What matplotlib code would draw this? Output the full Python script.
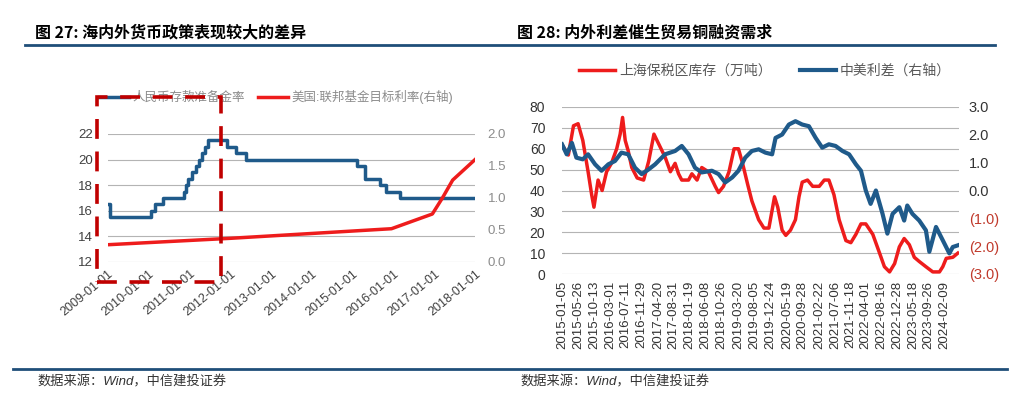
import matplotlib
matplotlib.use('Agg')
import matplotlib.pyplot as plt
from matplotlib.patches import Rectangle
from matplotlib.lines import Line2D
from matplotlib.ticker import FormatStrFormatter
import pandas as pd

plt.rcParams['font.family'] = ['Liberation Sans', 'Noto Sans CJK SC']

# ---- 图27 data ----
rrr_dates = ['2009-01-01', '2009-01-20', '2010-01-18', '2010-02-25', '2010-05-10',
             '2010-11-16', '2010-11-29', '2010-12-20', '2011-01-20', '2011-02-24',
             '2011-03-25', '2011-04-21', '2011-05-18', '2011-06-20', '2011-12-05',
             '2012-02-24', '2012-05-18', '2015-02-05', '2015-04-20', '2015-09-06',
             '2015-10-24', '2016-03-01', '2018-01-01']
rrr_values = [16.5, 15.5, 16.0, 16.5, 17.0, 17.5, 18.0, 18.5, 19.0, 19.5, 20.0,
              20.5, 21.0, 21.5, 21.0, 20.5, 20.0, 19.5, 18.5, 18.0, 17.5, 17.0, 17.0]

fed_dates = ['2009-01-01', '2012-01-01', '2015-12-15', '2016-12-15', '2017-03-15',
             '2017-06-15', '2018-01-01']
fed_values = [0.27, 0.37, 0.52, 0.75, 1.0, 1.28, 1.6]

left_xticks = ['2009-01-01', '2010-01-01', '2011-01-01', '2012-01-01', '2013-01-01',
               '2014-01-01', '2015-01-01', '2016-01-01', '2017-01-01', '2018-01-01']

# ---- 图28 data ----
stock_dates = ['2015-01-05', '2015-03-01', '2015-04-15', '2015-05-25', '2015-07-05',
               '2015-08-20', '2015-09-20', '2015-10-10', '2015-11-15', '2015-12-20',
               '2016-01-28', '2016-03-10', '2016-04-25', '2016-05-25', '2016-06-15',
               '2016-07-08', '2016-08-03', '2016-09-03', '2016-10-20', '2016-12-15',
               '2017-01-28', '2017-03-15', '2017-04-28', '2017-06-20', '2017-08-05',
               '2017-09-15', '2017-10-15', '2017-11-12', '2018-01-10', '2018-02-08',
               '2018-03-25', '2018-05-05', '2018-07-01', '2018-08-30', '2018-09-28',
               '2018-11-10', '2018-12-28', '2019-02-10', '2019-03-20', '2019-04-25',
               '2019-06-08', '2019-07-15', '2019-09-12', '2019-10-28', '2019-12-10',
               '2020-01-28', '2020-02-25', '2020-04-03', '2020-05-05', '2020-06-15',
               '2020-07-28', '2020-08-28', '2020-09-25', '2020-11-10', '2020-12-25',
               '2021-02-20', '2021-04-05', '2021-05-15', '2021-06-28', '2021-08-12',
               '2021-10-10', '2021-11-22', '2022-01-05', '2022-02-18', '2022-04-01',
               '2022-06-01', '2022-07-30', '2022-09-10', '2022-10-25', '2022-12-08',
               '2023-01-18', '2023-03-01', '2023-04-15', '2023-05-28', '2023-07-10',
               '2023-09-06', '2023-11-05', '2024-01-02', '2024-01-31', '2024-03-01',
               '2024-04-27', '2024-06-10']
stock_values = [62, 57, 71, 72, 64, 49, 38, 32, 45, 40,
                49, 53, 60, 67, 75, 64, 59, 51, 46, 45,
                54, 67, 62, 56, 49, 53, 48, 45, 45, 48,
                45, 51, 49, 42, 39, 42, 49, 60, 60, 53,
                43, 35, 26, 22, 22, 37, 32, 21, 18.5, 21,
                26, 37, 44, 45, 42, 42, 45, 45, 38, 26,
                16, 15, 19, 24, 24, 19, 10, 3.5, 1, 5,
                13, 17, 14, 8, 6, 3.5, 1, 1, 3.5, 7.5,
                8, 10]

spread_dates = ['2015-01-05', '2015-02-15', '2015-04-01', '2015-05-10', '2015-07-05',
                '2015-08-20', '2015-10-20', '2015-12-15', '2016-02-12', '2016-04-10',
                '2016-06-05', '2016-08-03', '2016-10-01', '2016-11-28', '2017-01-28',
                '2017-03-25', '2017-06-20', '2017-09-15', '2017-11-12', '2018-01-10',
                '2018-03-07', '2018-05-05', '2018-08-01', '2018-09-28', '2018-11-25',
                '2019-01-25', '2019-03-20', '2019-05-18', '2019-07-15', '2019-09-12',
                '2019-11-10', '2020-01-07', '2020-02-06', '2020-04-03', '2020-06-01',
                '2020-07-28', '2020-09-25', '2020-11-22', '2021-01-20', '2021-03-18',
                '2021-05-15', '2021-07-12', '2021-09-10', '2021-11-07', '2022-01-05',
                '2022-02-18', '2022-04-01', '2022-05-13', '2022-06-28', '2022-08-25',
                '2022-10-06', '2022-11-20', '2023-01-18', '2023-03-01', '2023-03-28',
                '2023-05-12', '2023-07-10', '2023-09-06', '2023-10-06', '2023-12-03',
                '2024-01-31', '2024-03-28', '2024-04-27', '2024-06-10']
spread_values = [1.66, 1.30, 1.71, 1.18, 1.12, 1.30, 0.94, 0.71, 0.94, 1.06,
                 1.36, 1.30, 0.82, 0.59, 0.76, 0.94, 1.30, 1.42, 1.60, 1.30,
                 0.82, 0.65, 0.71, 0.59, 0.29, 0.47, 0.71, 1.18, 1.42, 1.48,
                 1.36, 1.30, 1.89, 2.01, 2.37, 2.49, 2.37, 2.31, 1.89, 1.54,
                 1.66, 1.60, 1.42, 1.30, 0.94, 0.71, 0.0, -0.48, 0.0, -0.84,
                 -1.55, -0.84, -0.60, -1.08, -0.54, -0.84, -1.08, -1.43, -2.20, -1.31,
                 -1.79, -2.26, -2.03, -1.97]

right_xticks = ['2015-01-05', '2015-05-26', '2015-10-13', '2016-03-01', '2016-07-11',
                '2016-11-29', '2017-04-20', '2017-08-31', '2018-01-19', '2018-06-08',
                '2018-10-26', '2019-03-20', '2019-08-05', '2019-12-24', '2020-05-19',
                '2020-09-28', '2021-02-22', '2021-07-06', '2021-11-18', '2022-04-01',
                '2022-08-16', '2022-12-28', '2023-05-18', '2023-09-26', '2024-02-09']
spread_ticks = [-3, -2, -1, 0, 1, 2, 3]
spread_labels = ['(3.0)', '(2.0)', '(1.0)', '0.0', '1.0', '2.0', '3.0']

BLUE = '#1f5a8a'
RED = '#ee1c1c'
DARKRED = '#c00000'
LINE = '#1f4e79'
GRID = '#b4b4b4'
TXT = '#595959'

fig = plt.figure(figsize=(10.24, 4.05), dpi=100)
W, H = 1024.0, 405.0

def clean(ax):
    for s in ax.spines.values():
        s.set_visible(False)
    ax.tick_params(length=0)

# ---------------- left chart ----------------
ax1 = fig.add_axes([108 / W, 1 - 262 / H, 367 / W, 128 / H])
h1, = ax1.plot(pd.to_datetime(rrr_dates), rrr_values, color=BLUE, lw=2.5,
               drawstyle='steps-post', label='人民币存款准备金率')
ax1.set_ylim(12, 22)
ax1.set_yticks(range(12, 23, 2))
ax1.grid(axis='y', color=GRID, lw=0.8)
ax1.set_axisbelow(True)
ax1.set_xlim(pd.Timestamp(left_xticks[0]), pd.Timestamp(left_xticks[-1]))
ax1.set_xticks(pd.to_datetime(left_xticks))
ax1.set_xticklabels(left_xticks, rotation=40, ha='right', rotation_mode='anchor')
ax1.tick_params(axis='y', labelsize=9.5, labelcolor='#404040', pad=11)
ax1.tick_params(axis='x', labelsize=9, labelcolor='#404040', pad=4)
clean(ax1)

ax1b = ax1.twinx()
h2, = ax1b.plot(pd.to_datetime(fed_dates), fed_values, color=RED, lw=2.5,
                label='美国:联邦基金目标利率(右轴)')
ax1b.set_ylim(0, 2)
ax1b.set_yticks([0, 0.5, 1.0, 1.5, 2.0])
ax1b.yaxis.set_major_formatter(FormatStrFormatter('%.1f'))
ax1b.tick_params(axis='y', labelsize=9.5, labelcolor='#8c8c8c', pad=9)
clean(ax1b)

ax1.legend(handles=[h1, h2], loc='center', bbox_to_anchor=(276 / W, 1 - 97 / H),
           bbox_transform=fig.transFigure, ncol=2, frameon=False, fontsize=9,
           labelcolor='#8c8c8c', handlelength=2.4, handletextpad=0.3, columnspacing=1.0)

# dashed highlight box
fig.add_artist(Rectangle((97 / W, 1 - 282 / H), 124 / W, 185 / H, transform=fig.transFigure,
                         fill=False, ec=DARKRED, lw=2.6, ls=(0, (5.5, 3.5)), zorder=10))

# ---------------- right chart ----------------
ax2 = fig.add_axes([562 / W, 1 - 274 / H, 397 / W, 167 / H])
h3, = ax2.plot(pd.to_datetime(stock_dates), stock_values, color=RED, lw=2.5,
               label='上海保税区库存（万吨）')
ax2.set_ylim(0, 80)
ax2.set_yticks(range(0, 81, 10))
ax2.grid(axis='y', color=GRID, lw=0.8)
ax2.set_axisbelow(True)
ax2.set_xlim(pd.Timestamp('2015-01-05'), pd.Timestamp('2024-06-20'))
ax2.set_xticks(pd.to_datetime(right_xticks))
ax2.set_xticklabels(right_xticks, rotation=90)
ax2.tick_params(axis='y', labelsize=10, labelcolor='#333333', pad=12)
ax2.tick_params(axis='x', labelsize=9.5, labelcolor='#333333', pad=5)
clean(ax2)

ax2b = ax2.twinx()
h4, = ax2b.plot(pd.to_datetime(spread_dates), spread_values, color=BLUE, lw=3,
                label='中美利差（右轴）')
ax2b.set_ylim(-3, 3)
ax2b.set_yticks(spread_ticks)
ax2b.set_yticklabels(spread_labels)
ax2b.tick_params(axis='y', labelsize=10.5, pad=7)
for t, v in zip(ax2b.get_yticklabels(), spread_ticks):
    t.set_color('#c0392b' if v < 0 else '#333333')
clean(ax2b)

ax2.legend(handles=[h3, h4], loc='center', bbox_to_anchor=(765 / W, 1 - 71 / H),
           bbox_transform=fig.transFigure, ncol=2, frameon=False, fontsize=10,
           labelcolor=TXT, handlelength=2.6, handletextpad=0.3, columnspacing=2.0)

# ---------------- titles, rules, sources ----------------
fig.text(35 / W, 1 - 32 / H, '图 27: 海内外货币政策表现较大的差异', fontsize=11.5,
         fontweight='bold', va='center', family=['Noto Sans CJK SC'])
fig.text(517 / W, 1 - 32 / H, '图 28: 内外利差催生贸易铜融资需求', fontsize=11.5,
         fontweight='bold', va='center', family=['Noto Sans CJK SC'])
fig.add_artist(Line2D([25 / W, 995 / W], [1 - 45 / H] * 2, color=LINE, lw=2))
fig.add_artist(Line2D([13 / W, 1007 / W], [1 - 369 / H] * 2, color=LINE, lw=2))
fig.text(37 / W, 1 - 382 / H, '数据来源：Wind，中信建投证券', fontsize=9.5,
         color='#333333', va='center', style='italic')
fig.text(520 / W, 1 - 382 / H, '数据来源：Wind，中信建投证券', fontsize=9.5,
         color='#333333', va='center', style='italic')

fig.savefig('out.png', dpi=100)
